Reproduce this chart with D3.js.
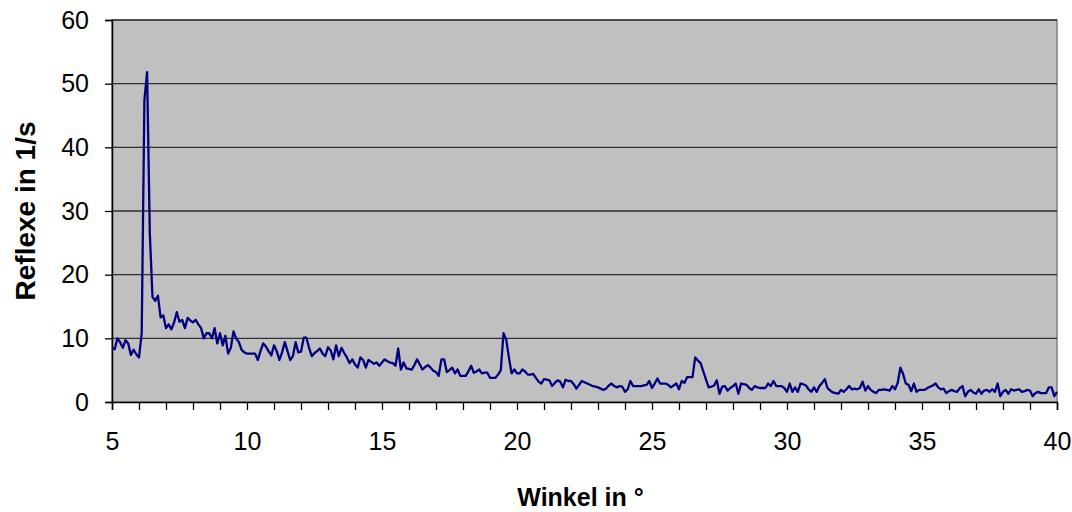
<!DOCTYPE html>
<html>
<head>
<meta charset="utf-8">
<script src="https://cdn.jsdelivr.net/npm/d3@7"></script>
<style>
  body { margin: 0; background: #fff; }
  svg text { font-family: 'Liberation Sans', Arial, sans-serif; }
</style>
</head>
<body>
<div class="chart"></div>
<script>
const width = 1072;
const height = 512;

// counts per 0.1° step, one row per degree (5.0 .. 40.0)
const angleStart = 5;
const angleStep = 0.1;
const reflexe = [
  8.5, 8.3, 10.0, 9.4, 8.5, 9.7, 9.2, 7.4, 8.2, 7.5,        // 5
  7.0, 10.8, 47.4, 51.8, 26.5, 16.5, 15.9, 16.7, 13.3, 13.6, // 6
  11.6, 12.2, 11.4, 12.5, 14.1, 12.6, 12.9, 11.6, 13.2, 12.8, // 7
  12.5, 12.9, 12.2, 11.6, 10.0, 10.8, 10.8, 10.0, 11.6, 9.2, // 8
  10.8, 8.9, 10.4, 7.6, 8.5, 11.1, 10.0, 9.4, 8.2, 7.8,      // 9
  7.6, 7.6, 7.6, 7.6, 6.6, 8.0, 9.2, 8.7, 8.0, 7.3,          // 10
  8.9, 8.0, 6.6, 7.8, 9.4, 8.0, 6.6, 7.2, 9.4, 7.8,          // 11
  7.9, 10.1, 10.1, 8.5, 7.2, 7.7, 8.0, 8.4, 7.6, 7.2,        // 12
  8.6, 8.1, 6.7, 8.9, 7.2, 8.5, 7.7, 7.0, 6.1, 6.7,          // 13
  5.9, 5.4, 7.0, 6.6, 5.4, 6.6, 6.3, 6.0, 6.2, 5.7,          // 14
  6.2, 6.7, 6.4, 6.2, 6.1, 5.7, 8.4, 5.1, 6.2, 5.3,          // 15
  5.2, 5.1, 5.8, 6.7, 5.9, 5.1, 5.5, 5.8, 5.4, 4.9,          // 16
  4.7, 4.1, 6.7, 6.7, 4.7, 5.0, 5.4, 4.5, 5.1, 4.1,          // 17
  4.1, 4.1, 4.8, 5.7, 4.6, 4.8, 5.1, 4.5, 4.6, 4.6,          // 18
  3.8, 3.8, 3.8, 4.3, 5.0, 10.8, 9.8, 7.0, 4.5, 5.1,         // 19
  4.5, 4.5, 5.1, 4.8, 4.3, 4.3, 4.4, 3.8, 3.2, 2.9,          // 20
  3.6, 3.5, 3.4, 2.5, 3.0, 3.4, 3.2, 2.3, 3.5, 3.3,          // 21
  3.3, 2.8, 2.1, 2.7, 3.3, 3.1, 2.9, 2.7, 2.5, 2.4,          // 22
  2.3, 2.1, 1.9, 2.1, 2.6, 2.9, 2.5, 2.3, 2.5, 2.4,          // 23
  1.6, 2.0, 3.3, 2.5, 2.5, 2.5, 2.5, 2.6, 2.7, 3.3,          // 24
  2.2, 2.9, 3.7, 2.9, 2.9, 2.9, 2.7, 2.3, 2.6, 2.9,          // 25
  2.0, 3.3, 3.0, 3.9, 3.9, 3.9, 7.0, 6.5, 6.1, 4.8,          // 26
  3.5, 2.3, 2.4, 2.6, 3.4, 1.3, 2.4, 2.5, 1.8, 2.2,          // 27
  2.5, 2.9, 1.3, 2.9, 2.8, 2.7, 2.2, 1.9, 2.5, 2.3,          // 28
  2.2, 2.2, 2.2, 2.9, 2.5, 3.3, 2.5, 2.5, 2.5, 2.2,          // 29
  1.6, 2.9, 1.6, 2.3, 1.6, 2.9, 2.8, 2.6, 2.0, 1.6,          // 30
  2.3, 1.6, 2.5, 3.0, 3.6, 2.2, 1.8, 1.5, 1.4, 1.3,          // 31
  1.9, 1.6, 2.0, 2.5, 2.0, 2.1, 2.0, 2.2, 3.2, 1.8,          // 32
  2.5, 1.9, 1.6, 1.4, 1.9, 1.9, 2.0, 1.9, 1.8, 2.5,          // 33
  2.0, 3.0, 5.4, 4.4, 2.9, 2.7, 1.7, 2.9, 1.6, 1.9,          // 34
  1.9, 1.9, 2.2, 2.4, 2.6, 2.9, 2.3, 2.0, 2.1, 1.4,          // 35
  1.7, 1.9, 1.7, 1.6, 2.2, 2.5, 0.9, 1.6, 1.9, 1.5,          // 36
  1.3, 2.0, 1.3, 1.8, 1.9, 1.6, 2.0, 1.6, 2.9, 0.9,          // 37
  1.6, 1.9, 1.3, 2.0, 1.8, 1.9, 2.0, 1.6, 1.7, 1.9,          // 38
  1.8, 0.9, 1.4, 1.6, 1.4, 1.4, 1.4, 2.3, 2.3, 0.9,          // 39
  1.6                                                         // 40
];

const xTicks = [5, 10, 15, 20, 25, 30, 35, 40];
const yTicks = [0, 10, 20, 30, 40, 50, 60];

const margin = { top: 20, right: 15, bottom: 110, left: 112 };
const plotW = width - margin.left - margin.right;
const plotH = height - margin.top - margin.bottom;

const svg = d3
  .select('.chart')
  .append('svg')
  .attr('width', width)
  .attr('height', height);

const x = d3.scaleLinear().domain([5, 40]).range([margin.left, margin.left + plotW]);
const y = d3.scaleLinear().domain([0, 60]).range([margin.top + plotH, margin.top]);

// plot area
svg
  .append('rect')
  .attr('x', margin.left)
  .attr('y', margin.top)
  .attr('width', plotW)
  .attr('height', plotH)
  .attr('fill', '#c0c0c0')
  .attr('stroke', '#808080')
  .attr('stroke-width', 1.5);

// gridlines
svg
  .append('g')
  .selectAll('line')
  .data(yTicks.filter((d) => d > 0))
  .join('line')
  .attr('x1', margin.left)
  .attr('x2', margin.left + plotW)
  .attr('y1', (d) => y(d))
  .attr('y2', (d) => y(d))
  .attr('stroke', '#303030')
  .attr('stroke-width', 1.3);

// y axis
const yAxis = svg
  .append('g')
  .attr('transform', `translate(${margin.left},0)`)
  .call(d3.axisLeft(y).tickValues(yTicks).tickSize(7).tickPadding(16));

// x axis, minor tick every degree
const xAxis = svg
  .append('g')
  .attr('transform', `translate(0,${margin.top + plotH})`)
  .call(
    d3
      .axisBottom(x)
      .tickValues(d3.range(5, 41, 1))
      .tickSize(8)
      .tickPadding(22)
      .tickFormat((d) => (xTicks.includes(d) ? d : ''))
  );

[yAxis, xAxis].forEach((ax) => {
  ax.select('.domain').attr('stroke', '#000').attr('stroke-width', 1.5);
  ax.selectAll('.tick line').attr('stroke', '#000').attr('stroke-width', 1.3);
  ax.selectAll('.tick text')
    .attr('fill', '#000')
    .style('font-size', '25px')
    .style('font-family', "'Liberation Sans', Arial, sans-serif");
});

// data line
const line = d3
  .line()
  .x((d, i) => x(angleStart + i * angleStep))
  .y((d) => y(d));

svg
  .append('path')
  .datum(reflexe)
  .attr('fill', 'none')
  .attr('stroke', '#000080')
  .attr('stroke-width', 2.3)
  .attr('stroke-linejoin', 'round')
  .attr('d', line);

// axis titles
svg
  .append('text')
  .attr('x', margin.left + plotW / 2 - 4)
  .attr('y', 506)
  .attr('text-anchor', 'middle')
  .style('font-size', '25px')
  .style('font-weight', 'bold')
  .text('Winkel in °');

svg
  .append('text')
  .attr('transform', `translate(35,${margin.top + plotH / 2}) rotate(-90)`)
  .attr('text-anchor', 'middle')
  .style('font-size', '28px')
  .style('font-weight', 'bold')
  .text('Reflexe in 1/s');
</script>
</body>
</html>
